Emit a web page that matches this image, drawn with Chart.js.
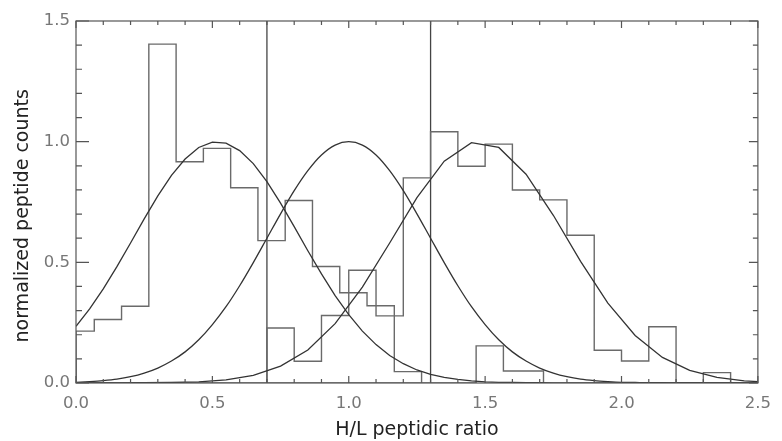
<!DOCTYPE html>
<html><head><meta charset="utf-8">
<script src="https://cdn.jsdelivr.net/npm/chart.js@4.4.1/dist/chart.umd.min.js"></script>
<style>html,body{margin:0;padding:0;background:#fff}#c{display:block}</style>
</head><body>
<canvas id="c" width="782" height="441"></canvas>
<script>
// ---- data ----
const xTitle = 'H/L peptidic ratio';
const yTitle = 'normalized peptide counts';
const gateRatios = [0.7, 1.3];

// histogram with bins offset (light population)
const lightEdges  = [0, 0.067, 0.167, 0.267, 0.367, 0.467, 0.567, 0.667, 0.767, 0.867, 0.967, 1.067, 1.167, 1.267];
const lightCounts = [0.215, 0.263, 0.318, 1.404, 0.917, 0.972, 0.809, 0.590, 0.756, 0.483, 0.374, 0.320, 0.047];

// histogram on tenth bins
const heavyEdges  = [0.7, 0.8, 0.9, 1.0, 1.1, 1.2, 1.3, 1.4, 1.5, 1.6, 1.7, 1.8, 1.9, 2.0, 2.1, 2.2, 2.3, 2.4];
const heavyCounts = [0.228, 0.090, 0.280, 0.467, 0.278, 0.850, 1.041, 0.898, 0.990, 0.800, 0.759, 0.612, 0.136, 0.091, 0.233, 0.000, 0.043];

// small extra histogram pieces
const extraEdges  = [-0.1, 0.0, 1.467, 1.567, 1.714];
const extraCounts = [0.095, 0.000, 0.154, 0.050];

// fitted curves
const curveX = [0.00,0.05,0.10,0.15,0.20,0.25,0.30,0.35,0.40,0.45,0.50,0.55,0.60,0.65,0.70,0.75,0.80,0.85,0.90,0.95,
                1.00,1.05,1.10,1.15,1.20,1.25,1.30,1.35,1.40,1.45,1.50,1.55,1.60,1.65,1.70,1.75,1.80,1.85,1.90,1.95,
                2.00,2.05,2.10,2.15,2.20,2.25,2.30,2.35,2.40,2.45,2.50];
const lightFit = [0.235,0.307,0.390,0.482,0.580,0.680,0.775,0.860,0.928,0.976,0.998,0.994,0.963,0.909,0.834,0.745,0.648,0.548,0.452,0.362,
                  0.283,0.215,0.159,0.114,0.080,0.054,0.036,0.023,0.015,0.009,0.005,0.003,0.002,0.001,0.001,0,0,0,0,0,
                  0,0,0,0,0,0,0,0,0,0,0];
const mixedFit = [0.003,0.006,0.010,0.016,0.026,0.041,0.062,0.091,0.129,0.179,0.242,0.316,0.403,0.499,0.600,0.701,0.797,0.880,0.945,0.986,
                  1.000,0.986,0.945,0.880,0.797,0.701,0.600,0.499,0.403,0.316,0.242,0.179,0.129,0.091,0.062,0.041,0.026,0.016,0.010,0.006,
                  0.003,0.002,0.001,0.001,0,0,0,0,0,0,0];
const heavyFitX = [0.00,0.05,0.15,0.25,0.35,0.45,0.55,0.65,0.75,0.85,0.95,1.05,1.15,1.25,1.35,1.45,1.55,1.65,1.75,1.85,1.95,2.05,2.15,2.25,2.35,2.45,2.50];
const heavyFit  = [0.000,0.000,0.000,0.001,0.002,0.005,0.013,0.032,0.070,0.137,0.246,0.397,0.580,0.768,0.919,0.996,0.976,0.865,0.695,0.504,0.331,0.197,0.106,0.052,0.023,0.009,0.006];

// ---- helpers ----
function steps(edges, counts) {
  const pts = [{x: edges[0], y: 0}];
  counts.forEach((c, i) => pts.push({x: edges[i], y: c}));
  pts.push({x: edges[edges.length - 1], y: 0});
  return pts;
}
function pairs(xs, ys) { return xs.map((x, i) => ({x: x, y: ys[i]})); }

const FONT = '"DejaVu Sans", sans-serif';
const HIST = '#6a6a6a', CURVE = '#333', FRAME = '#555';

const frameTicks = {
  id: 'frameTicks',
  afterDraw(chart) {
    const {ctx, chartArea: a, scales: {x, y}} = chart;
    ctx.save();
    ctx.strokeStyle = FRAME; ctx.lineWidth = 1.2;
    ctx.strokeRect(a.left, a.top, a.right - a.left, a.bottom - a.top);
    ctx.beginPath();
    for (let i = 0; i <= 25; i++) {
      const px = x.getPixelForValue(i / 10);
      const L = (i % 5 === 0) ? 7 : 4;
      ctx.moveTo(px, a.bottom); ctx.lineTo(px, a.bottom - L);
      ctx.moveTo(px, a.top); ctx.lineTo(px, a.top + L);
    }
    for (let i = 0; i <= 15; i++) {
      const py = y.getPixelForValue(i / 10);
      const major = i % 5 === 0;
      ctx.moveTo(a.left, py); ctx.lineTo(a.left + (major ? 13 : 6), py);
      ctx.moveTo(a.right, py); ctx.lineTo(a.right - (major ? 9 : 5), py);
    }
    ctx.stroke();
    ctx.restore();
  }
};

const yTitlePlugin = {
  id: 'yTitlePlugin',
  afterDraw(chart) {
    const ctx = chart.ctx;
    ctx.save();
    ctx.translate(23.4, 215.8);
    ctx.rotate(-Math.PI / 2);
    ctx.font = '19px ' + FONT;
    ctx.fillStyle = '#222';
    ctx.textAlign = 'center';
    ctx.textBaseline = 'middle';
    ctx.fillText(yTitle, 0, 0);
    ctx.restore();
  }
};

const datasets = [
  {label: 'light fit', data: pairs(curveX, lightFit), borderColor: CURVE, borderWidth: 1.3, tension: 0},
  {label: 'mixed fit', data: pairs(curveX, mixedFit), borderColor: CURVE, borderWidth: 1.3, cubicInterpolationMode: 'monotone'},
  {label: 'heavy fit', data: pairs(heavyFitX, heavyFit), borderColor: CURVE, borderWidth: 1.3, tension: 0},
  {label: 'light hist', data: steps(lightEdges, lightCounts), borderColor: HIST, borderWidth: 1.4, stepped: true},
  {label: 'heavy hist', data: steps(heavyEdges, heavyCounts), borderColor: HIST, borderWidth: 1.4, stepped: true},
  {label: 'extra hist', data: steps(extraEdges, extraCounts), borderColor: HIST, borderWidth: 1.4, stepped: true}
];
gateRatios.forEach(g => datasets.push({label: 'gate ' + g, data: [{x: g, y: 0}, {x: g, y: 1.5}], borderColor: '#444', borderWidth: 1.3}));
datasets.forEach(d => { d.showLine = true; d.pointRadius = 0; d.fill = false; });

new Chart(document.getElementById('c'), {
  type: 'scatter',
  data: {datasets: datasets},
  options: {
    responsive: false, animation: false, devicePixelRatio: 1,
    layout: {padding: {top: 21, right: 13, bottom: 0, left: 0}},
    plugins: {legend: {display: false}, tooltip: {enabled: false}},
    scales: {
      x: {
        type: 'linear', min: 0, max: 2.5,
        grid: {display: false, drawTicks: false}, border: {display: false},
        ticks: {stepSize: 0.5, padding: 11, color: '#777', font: {family: FONT, size: 16.5}, autoSkip: false, maxRotation: 0,
                callback: v => v.toFixed(1)},
        title: {display: true, text: xTitle, color: '#222', font: {family: FONT, size: 19, lineHeight: 1}, padding: {top: 0, bottom: 1}},
        afterFit: s => { s.height = 58; }
      },
      y: {
        type: 'linear', min: 0, max: 1.5,
        grid: {display: false, drawTicks: false}, border: {display: false},
        ticks: {stepSize: 0.5, padding: 6, color: '#777', font: {family: FONT, size: 16.5}, callback: v => v.toFixed(1)},
        afterFit: s => { s.width = 76; }
      }
    }
  },
  plugins: [frameTicks, yTitlePlugin]
});
</script>
</body></html>
